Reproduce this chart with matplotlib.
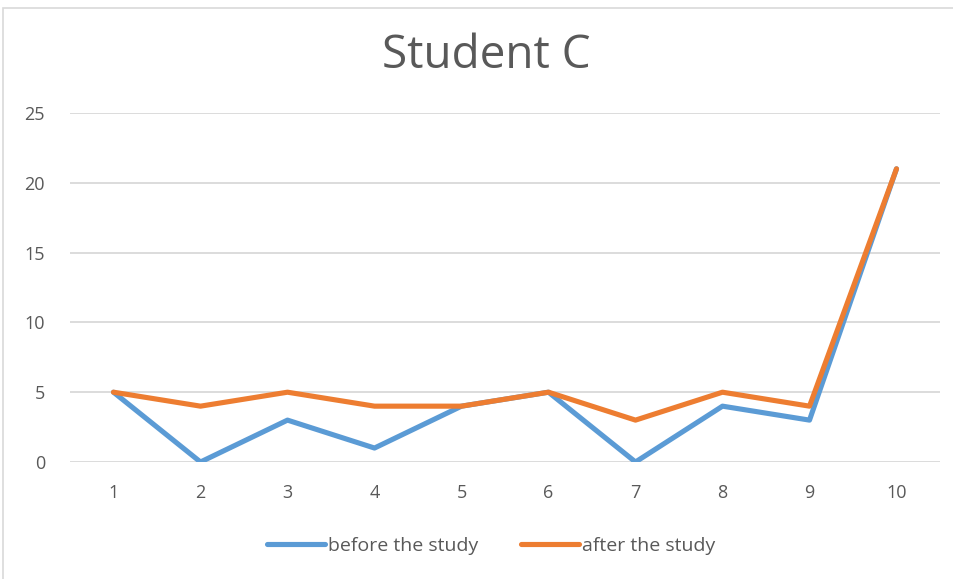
import matplotlib.pyplot as plt
from matplotlib.patches import Rectangle

# Scores for student C
categories = [1, 2, 3, 4, 5, 6, 7, 8, 9, 10]
before = [5, 0, 3, 1, 4, 5, 0, 4, 3, 21]
after = [5, 4, 5, 4, 4, 5, 3, 5, 4, 21]
yticks = [0, 5, 10, 15, 20, 25]

plt.rcParams['font.family'] = ['Open Sans', 'DejaVu Sans']

fig = plt.figure(figsize=(9.54, 5.79), dpi=100)
ax = fig.add_axes([70 / 954, 117 / 579, 870 / 954, 349 / 579])

# chart frame
fig.patches.append(Rectangle((3 / 954, -0.1), 1.2, (579 - 8) / 579 + 0.1,
                             transform=fig.transFigure, fill=False,
                             edgecolor='#D9D9D9', linewidth=1.2))

ax.plot(categories, before, color='#5B9BD5', linewidth=3.7, solid_joinstyle='round',
        solid_capstyle='round', label='before the study', zorder=3)
ax.plot(categories, after, color='#ED7D31', linewidth=3.7, solid_joinstyle='round',
        solid_capstyle='round', label='after the study', zorder=4)

ax.set_xlim(0.5, 10.5)
ax.set_ylim(0, 25)
ax.set_xticks(categories)
ax.set_yticks(yticks)
ax.yaxis.grid(True, color='#D9D9D9', linewidth=1.3)
ax.set_axisbelow(True)
for s in ax.spines.values():
    s.set_visible(False)
ax.tick_params(length=0, labelsize=13, labelcolor='#595959')
ax.tick_params(axis='x', pad=16)
ax.tick_params(axis='y', pad=18)

fig.text(486 / 954, 1 - 56 / 579, 'Student C', ha='center', va='center',
         fontsize=33, color='#595959')

fig.legend(loc='center', bbox_to_anchor=(491 / 954, 1 - 546 / 579), ncol=2,
           frameon=False, fontsize=14, labelcolor='#595959', handlelength=3.0,
           handletextpad=0.15, columnspacing=2.2)

fig.savefig('out.png', dpi=100)
